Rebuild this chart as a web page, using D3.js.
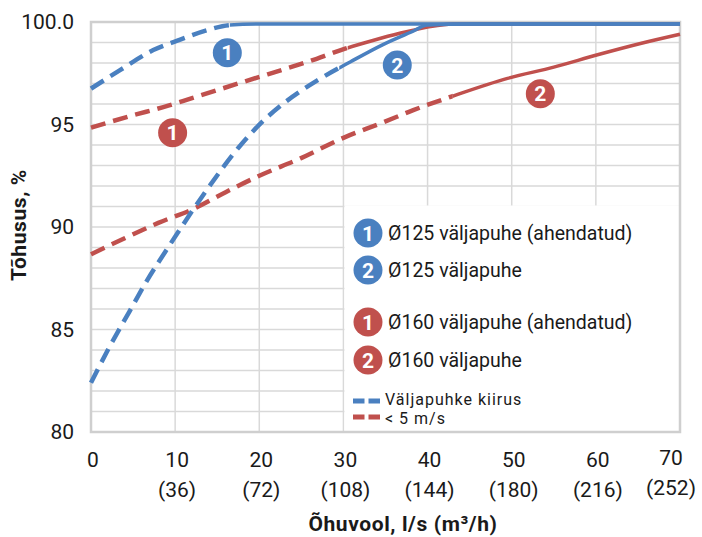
<!DOCTYPE html>
<html>
<head>
<meta charset="utf-8">
<script src="https://cdn.jsdelivr.net/npm/d3@7"></script>
<style>
  html, body { margin: 0; padding: 0; background: #fff; }
  svg { display: block; }
  text { font-family: Roboto, "Noto Sans", "DejaVu Sans", sans-serif; fill: #1a1a1a; }
</style>
</head>
<body>
<svg id="chart" width="702" height="537"></svg>
<script>
// ---------- data ----------
const xTicks = [0, 10, 20, 30, 40, 50, 60, 70];
const xTickSub = ["", "(36)", "(72)", "(108)", "(144)", "(180)", "(216)", "(252)"];
const yTicks = [80, 85, 90, 95, 100];
const yTickLabels = ["80", "85", "90", "95", "100.0"];

// Ø125 väljapuhe (ahendatud) — blue 1
const blue1X = [0, 3.45, 7.4, 10.6, 13.8, 16.5, 20, 30, 40, 50, 60, 70];
const blue1Y = [96.75, 97.65, 98.63, 99.14, 99.6, 99.85, 99.9, 99.9, 99.9, 99.9, 99.9, 99.9];
const blue1DashUntil = 16.5;

// Ø125 väljapuhe — blue 2
const blue2X = [0, 2, 4.6, 6.6, 9.4, 13.4, 17.8, 20.4, 22.8, 26.9, 30.8, 34.7, 38, 40, 45, 70];
const blue2Y = [82.4, 84.0, 85.9, 87.35, 89.15, 91.6, 94.0, 95.15, 96.0, 97.15, 98.05, 98.9, 99.5, 99.85, 99.9, 99.9];
const blue2DashUntil = 29.5;

// Ø160 väljapuhe (ahendatud) — red 1
const red1X = [0, 5, 8.6, 12.1, 17.5, 21, 25.7, 30.2, 33.5, 36.7, 40, 43, 70];
const red1Y = [94.85, 95.45, 95.85, 96.3, 97.0, 97.45, 98.05, 98.7, 99.1, 99.45, 99.75, 99.9, 99.9];
const red1DashUntil = 30.5;

// Ø160 väljapuhe — red 2
const red2X = [0, 4, 8, 12, 16, 20, 24.9, 30, 34.7, 38.3, 43.1, 49.5, 55, 60.2, 65.3, 70];
const red2Y = [88.67, 89.45, 90.2, 90.85, 91.7, 92.5, 93.35, 94.35, 95.1, 95.7, 96.4, 97.25, 97.8, 98.4, 98.95, 99.4];
const red2DashUntil = 43;

const legendItems = [
  { num: "1", label: "Ø125 väljapuhe (ahendatud)", color: "#4a80c0" },
  { num: "2", label: "Ø125 väljapuhe", color: "#4a80c0" },
  { num: "1", label: "Ø160 väljapuhe (ahendatud)", color: "#c0504d" },
  { num: "2", label: "Ø160 väljapuhe", color: "#c0504d" }
];
const dashLegend = ["Väljapuhke kiirus", "< 5 m/s"];

// ---------- layout ----------
const BLUE = "#4a80c0", RED = "#c0504d";
const svg = d3.select("#chart");
const L = 91, R = 680, T = 22, B = 432;
const x = d3.scaleLinear().domain([0, 70]).range([L, R]);
const y = d3.scaleLinear().domain([80, 100]).range([B, T]);

// grid
const grid = svg.append("g");
grid.selectAll("line.h").data(d3.range(80, 101, 1)).enter().append("line")
  .attr("x1", L).attr("x2", R).attr("y1", d => y(d)).attr("y2", d => y(d))
  .attr("stroke", "#d9d9d9").attr("stroke-width", 1.5);
grid.selectAll("line.v").data(xTicks).enter().append("line")
  .attr("x1", d => x(d)).attr("x2", d => x(d)).attr("y1", T).attr("y2", B)
  .attr("stroke", "#d9d9d9").attr("stroke-width", 1.5);

// legend background box (covers grid)
svg.append("rect")
  .attr("x", x(30) + 1).attr("y", y(91) - 1)
  .attr("width", x(70) - x(30) - 2).attr("height", y(80) - y(91))
  .attr("fill", "#fff");

// plot border
svg.append("rect").attr("x", L).attr("y", T).attr("width", R - L).attr("height", B - T)
  .attr("fill", "none").attr("stroke", "#cfcfcf").attr("stroke-width", 2.5);

// curves
const line = d3.line().x(d => x(d[0])).y(d => y(d[1])).curve(d3.curveMonotoneX);
const defs = svg.append("defs");
let clipN = 0;
function drawSeries(xs, ys, cut, color) {
  const pts = xs.map((v, i) => [v, ys[i]]);
  const g = svg.append("g");
  const id = "clip" + (clipN++);
  defs.append("clipPath").attr("id", id + "a").append("rect")
    .attr("x", 0).attr("y", 0).attr("width", x(cut)).attr("height", 537);
  defs.append("clipPath").attr("id", id + "b").append("rect")
    .attr("x", x(cut)).attr("y", 0).attr("width", 702 - x(cut)).attr("height", 537);
  g.append("path").attr("d", line(pts)).attr("fill", "none").attr("stroke", color)
    .attr("stroke-width", 4.5).attr("stroke-dasharray", "15,8")
    .attr("clip-path", `url(#${id}a)`);
  g.append("path").attr("d", line(pts)).attr("fill", "none").attr("stroke", color)
    .attr("stroke-width", 3.5)
    .attr("clip-path", `url(#${id}b)`);
}
drawSeries(red2X, red2Y, red2DashUntil, RED);
drawSeries(red1X, red1Y, red1DashUntil, RED);
drawSeries(blue2X, blue2Y, blue2DashUntil, BLUE);
drawSeries(blue1X, blue1Y, blue1DashUntil, BLUE);

// badges
function badge(cx, cy, num, color) {
  const g = svg.append("g");
  g.append("circle").attr("cx", cx).attr("cy", cy).attr("r", 14.5).attr("fill", color);
  g.append("text").attr("x", cx).attr("y", cy).attr("text-anchor", "middle")
    .attr("dy", "0.36em").style("fill", "#fff").style("font-weight", "bold")
    .style("font-size", "21px").text(num);
}
badge(x(16.2), y(98.5), "1", BLUE);
badge(x(9.7), y(94.6), "1", RED);
badge(x(36.4), y(97.9), "2", BLUE);
badge(x(53.4), y(96.5), "2", RED);

// legend
const legY = [233, 270, 322, 360];
legendItems.forEach((it, i) => {
  badge(368, legY[i], it.num, it.color);
  svg.append("text").attr("x", 388).attr("y", legY[i]).attr("dy", "0.35em")
    .style("font-size", "19.5px").text(it.label);
});
[[BLUE, 401], [RED, 417]].forEach(([c, yy]) => {
  svg.append("line").attr("x1", 353).attr("x2", 380).attr("y1", yy).attr("y2", yy)
    .attr("stroke", c).attr("stroke-width", 5).attr("stroke-dasharray", "11.5,4");
});
svg.append("text").attr("x", 385).attr("y", 399).attr("dy", "0.35em").style("font-size", "16px")
  .style("letter-spacing", "1px").text(dashLegend[0]);
svg.append("text").attr("x", 385).attr("y", 418).attr("dy", "0.35em").style("font-size", "16px")
  .style("letter-spacing", "1px").text(dashLegend[1]);

// y tick labels
svg.selectAll("text.yt").data(yTicks).enter().append("text")
  .attr("x", 74).attr("y", d => y(d)).attr("dy", "0.35em").attr("text-anchor", "end")
  .style("font-size", "21px").text((d, i) => yTickLabels[i]);

// x tick labels
xTicks.forEach((v, i) => {
  const last = i === xTicks.length - 1;
  const cx = last ? x(v) - 9 : x(v) + 2;
  svg.append("text").attr("x", cx).attr("y", last ? 458 : 460).attr("dy", "0.35em")
    .attr("text-anchor", "middle").style("font-size", "21px").text(v);
  if (xTickSub[i]) {
    svg.append("text").attr("x", cx).attr("y", last ? 488 : 490).attr("dy", "0.35em")
      .attr("text-anchor", "middle").style("font-size", "21px").text(xTickSub[i]);
  }
});

// axis titles
svg.append("text").attr("x", 403).attr("y", 524).attr("dy", "0.35em").attr("text-anchor", "middle")
  .style("font-size", "21px").style("font-weight", "bold").style("letter-spacing", "0.6px")
  .text("Õhuvool, l/s (m³/h)");
svg.append("text").attr("transform", "translate(19,225) rotate(-90)").attr("dy", "0.35em")
  .attr("text-anchor", "middle").style("font-size", "21px").style("font-weight", "bold")
  .style("letter-spacing", "0.6px").text("Tõhusus, %");
</script>
</body>
</html>
